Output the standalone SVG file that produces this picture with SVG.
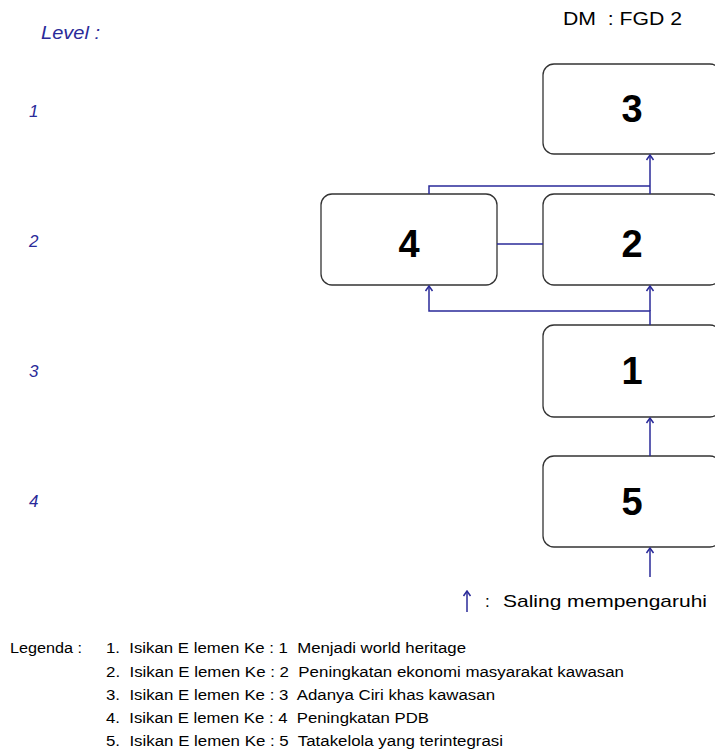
<svg xmlns="http://www.w3.org/2000/svg" width="715" height="753" viewBox="0 0 715 753">
<defs>
<style>
.box{fill:#fff;stroke:#333;stroke-width:1.3}
.num{font-family:"Liberation Sans",Arial,sans-serif;font-weight:bold;font-size:38px;fill:#000;text-anchor:middle}
.lvl{font-family:"Liberation Sans",Arial,sans-serif;font-style:italic;font-size:17px;fill:#2a2a99}
.con{fill:none;stroke:#2a2a99;stroke-width:1.5}
.leg{font-family:"Liberation Sans",Arial,sans-serif;font-size:14px;fill:#000}
.hdr{font-family:"Liberation Sans",Arial,sans-serif;font-size:18px;fill:#000}
</style>
<marker id="ah" markerWidth="10" markerHeight="10" refX="9" refY="5" orient="auto" markerUnits="userSpaceOnUse" viewBox="0 0 10 10">
<path d="M4,1.5 L9,5 L4,8.5" fill="none" stroke="#2a2a99" stroke-width="1.5"/>
</marker>
</defs>
<rect width="715" height="753" fill="#fff"/>
<text class="hdr" x="563" y="25" xml:space="preserve" textLength="119" lengthAdjust="spacingAndGlyphs">DM  : FGD 2</text>
<text class="lvl" x="41" y="39" style="font-size:18px" textLength="59" lengthAdjust="spacingAndGlyphs">Level :</text>
<text class="lvl" x="29" y="117">1</text>
<text class="lvl" x="29" y="247">2</text>
<text class="lvl" x="29" y="377">3</text>
<text class="lvl" x="29" y="507">4</text>

<g id="node3"><rect class="box" x="543" y="64" width="178" height="90" rx="11"/><text class="num" x="632" y="122">3</text></g>
<g id="node4"><rect class="box" x="321" y="194" width="176" height="91" rx="11"/><text class="num" x="409" y="257">4</text></g>
<g id="node2"><rect class="box" x="543" y="194" width="178" height="91" rx="11"/><text class="num" x="632" y="257">2</text></g>
<g id="node1"><rect class="box" x="543" y="325" width="178" height="92" rx="11"/><text class="num" x="632" y="384">1</text></g>
<g id="node5"><rect class="box" x="543" y="456" width="178" height="91" rx="11"/><text class="num" x="632" y="515">5</text></g>

<g id="connectors">
<path class="con" d="M650,194 V155" marker-end="url(#ah)"/>
<path class="con" d="M429,194 V186 H650"/>
<path class="con" d="M497,244 H543"/>
<path class="con" d="M650,325 V311 H429 V286" marker-end="url(#ah)"/>
<path class="con" d="M650,311 V286" marker-end="url(#ah)"/>
<path class="con" d="M650,456 V418" marker-end="url(#ah)"/>
<path class="con" d="M650,577 V548" marker-end="url(#ah)"/>
</g>

<g id="legend-arrow">
<path class="con" d="M467,612 V591" marker-end="url(#ah)"/>
<text x="485" y="607" style="font-family:'Liberation Sans',Arial,sans-serif;font-size:17px;fill:#000">:</text>
<text x="503" y="607" textLength="204" lengthAdjust="spacingAndGlyphs" style="font-family:'Liberation Sans',Arial,sans-serif;font-size:17px;fill:#000">Saling mempengaruhi</text>
</g>

<g id="legend">
<text class="leg" x="10" y="653" textLength="72" lengthAdjust="spacingAndGlyphs">Legenda :</text>
<text class="leg" x="106" y="653" xml:space="preserve" textLength="360" lengthAdjust="spacingAndGlyphs">1.  Isikan E lemen Ke : 1  Menjadi world heritage</text>
<text class="leg" x="106" y="677" xml:space="preserve" textLength="518" lengthAdjust="spacingAndGlyphs">2.  Isikan E lemen Ke : 2  Peningkatan ekonomi masyarakat kawasan</text>
<text class="leg" x="106" y="700" xml:space="preserve" textLength="389" lengthAdjust="spacingAndGlyphs">3.  Isikan E lemen Ke : 3  Adanya Ciri khas kawasan</text>
<text class="leg" x="106" y="723" xml:space="preserve" textLength="323" lengthAdjust="spacingAndGlyphs">4.  Isikan E lemen Ke : 4  Peningkatan PDB</text>
<text class="leg" x="106" y="746" xml:space="preserve" textLength="397" lengthAdjust="spacingAndGlyphs">5.  Isikan E lemen Ke : 5  Tatakelola yang terintegrasi</text>
</g>
</svg>
